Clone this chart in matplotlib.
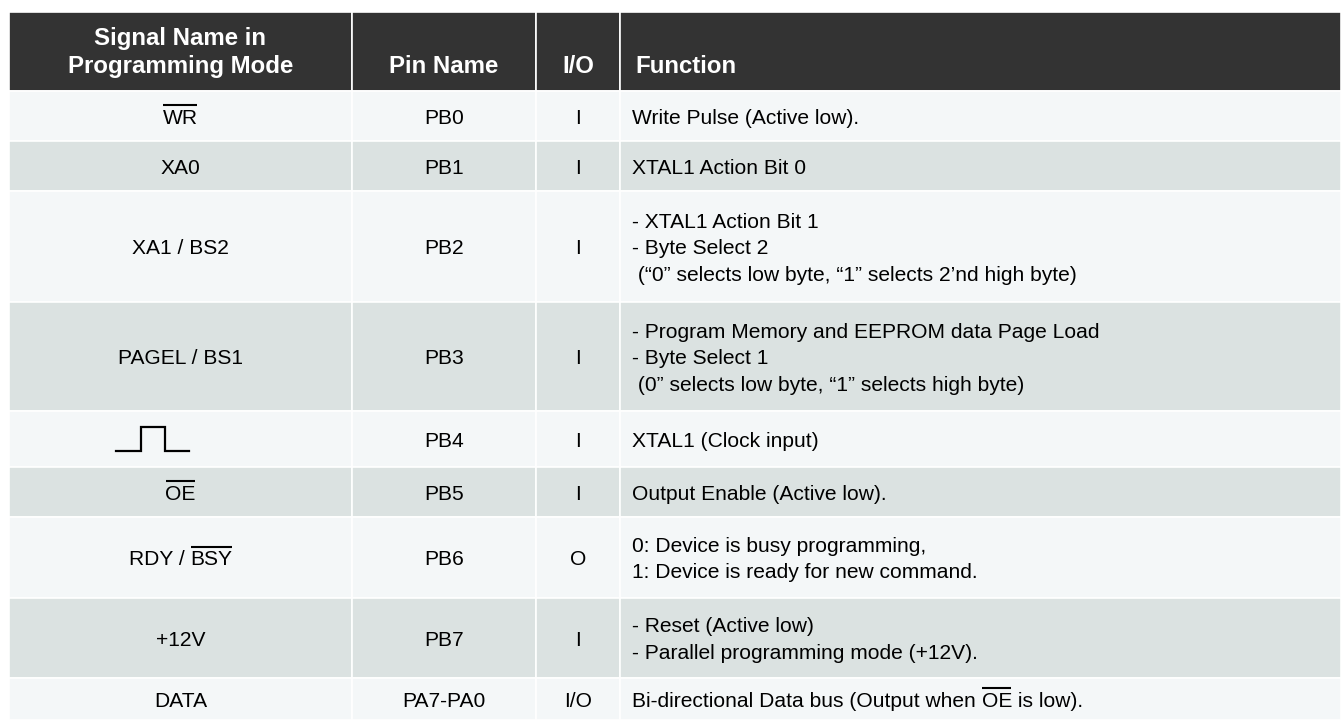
import matplotlib.pyplot as plt
from matplotlib.patches import Rectangle

plt.rcParams['font.family'] = ['Liberation Sans', 'DejaVu Sans']

# table content ("~" marks text drawn with an overline, i.e. active low)
headers = ['Signal Name in\nProgramming Mode', 'Pin Name', 'I/O', 'Function']
signals = ['~WR', 'XA0', 'XA1 / BS2', 'PAGEL / BS1', 'CLOCK',
           '~OE', 'RDY / |~BSY', '+12V', 'DATA']
pins = ['PB0', 'PB1', 'PB2', 'PB3', 'PB4', 'PB5', 'PB6', 'PB7', 'PA7-PA0']
io = ['I', 'I', 'I', 'I', 'I', 'I', 'O', 'I', 'I/O']
functions = [
    ['Write Pulse (Active low).'],
    ['XTAL1 Action Bit 0'],
    ['- XTAL1 Action Bit 1', '- Byte Select 2',
     ' (\u201c0\u201d selects low byte, \u201c1\u201d selects 2\u2019nd high byte)'],
    ['- Program Memory and EEPROM data Page Load', '- Byte Select 1',
     ' (0\u201d selects low byte, \u201c1\u201d selects high byte)'],
    ['XTAL1 (Clock input)'],
    ['Output Enable (Active low).'],
    ['0: Device is busy programming,', '1: Device is ready for new command.'],
    ['- Reset (Active low)', '- Parallel programming mode (+12V).'],
    ['Bi-directional Data bus (Output when |~OE| is low).'],
]

# layout (pixels)
W, H = 1341, 720
col_x = [9, 352, 536, 620, W]
head_top, head_bot = 12, 91
row_y = [91, 141, 191, 302, 411, 467, 517, 598, 678, 720]
light, gray, dark = '#F4F7F8', '#DBE2E1', '#333333'
body_px, head_px = 21.0, 24.0
body_pitch, head_pitch = 26.5, 28.0
ink = '#000000'

fig = plt.figure(figsize=(W / 100, H / 100), dpi=100)
ax = fig.add_axes([0, 0, 1, 1])
ax.set_xlim(0, W)
ax.set_ylim(H, 0)
ax.axis('off')
renderer = fig.canvas.get_renderer()


def put(x, yc, s, size_px, ha='center', **kw):
    # split into segments; segments starting with "~" get an overline
    segs = [p for p in s.split('|') if p != ''] if '|' in s or '~' in s else [s]
    base = yc + 0.36 * size_px
    objs = []
    for seg in segs:
        over = seg.startswith('~')
        t = ax.text(0, base, seg.lstrip('~'), ha='left', va='baseline',
                    fontsize=size_px * 0.72, **kw)
        w = t.get_window_extent(renderer).width
        objs.append((t, w, over))
    total = sum(o[1] for o in objs)
    cur = x - total / 2 if ha == 'center' else x
    for t, w, over in objs:
        t.set_x(cur)
        if over:
            yb = base - 0.716 * size_px - 3.5
            ax.plot([cur + 0.5, cur + w - 0.5], [yb, yb], color=kw.get('color', ink), lw=1.5,
                    solid_capstyle='butt')
        cur += w


# header
for i in range(4):
    ax.add_patch(Rectangle((col_x[i], head_top), col_x[i + 1] - col_x[i], head_bot - head_top,
                           facecolor=dark, edgecolor='white', lw=1.2))
head_base = 64
for i, h in enumerate(headers):
    lines = h.split('\n')
    n = len(lines)
    for k, line in enumerate(lines):
        yc = head_base - (n - 1 - k) * head_pitch
        if i == 3:
            put(635, yc, line, head_px, ha='left', color='white', fontweight='bold')
        else:
            put((col_x[i] + col_x[i + 1]) / 2, yc, line, head_px, color='white', fontweight='bold')

# body rows
for r in range(len(pins)):
    y0, y1 = row_y[r], row_y[r + 1]
    yc = (y0 + y1) / 2
    fc = light if r % 2 == 0 else gray
    for i in range(4):
        ax.add_patch(Rectangle((col_x[i], y0), col_x[i + 1] - col_x[i], y1 - y0,
                               facecolor=fc, edgecolor='white', lw=1.2))
    sx = (col_x[0] + col_x[1]) / 2
    if signals[r] == 'CLOCK':
        cx = sx - 28
        ax.plot([cx - 36, cx - 11, cx - 11, cx + 13, cx + 13, cx + 37],
                [yc + 12, yc + 12, yc - 12, yc - 12, yc + 12, yc + 12],
                color=ink, lw=1.6, solid_joinstyle='miter')
    else:
        put(sx, yc, signals[r], body_px, color=ink)
    put((col_x[1] + col_x[2]) / 2, yc, pins[r], body_px, color=ink)
    put((col_x[2] + col_x[3]) / 2, yc, io[r], body_px, color=ink)
    lines = functions[r]
    n = len(lines)
    for k, line in enumerate(lines):
        put(632, yc + (k - (n - 1) / 2) * body_pitch, line, body_px, ha='left', color=ink)

fig.savefig('out.png', dpi=100, facecolor='white')
plt.close()
